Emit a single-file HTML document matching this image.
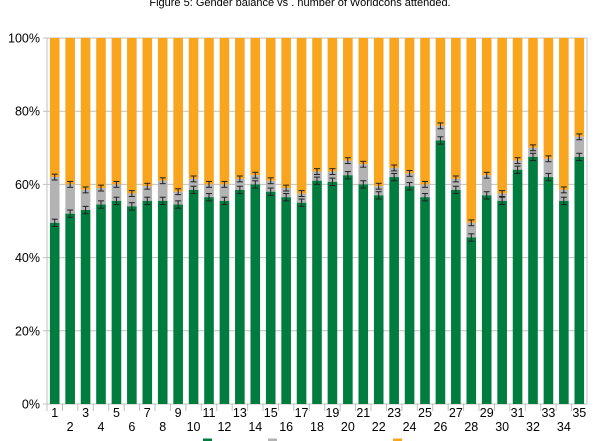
<!DOCTYPE html>
<html><head><meta charset="utf-8"><style>
html,body{margin:0;padding:0;background:#fff;width:600px;height:441px;overflow:hidden}
svg text{font-family:"Liberation Sans",Arial,sans-serif}
</style></head><body>
<svg id="c" width="600" height="441" xmlns="http://www.w3.org/2000/svg">
<text x="300" y="6" font-size="11" text-anchor="middle" fill="#000">Figure 5: Gender balance vs . number of Worldcons attended.</text>
</svg>
<script>
var g=[49.5,52,53,54.5,55.5,54,55.5,55.5,54.5,58.5,56.5,55.5,58.5,60,58,56.5,55,61,60.7,62.5,60,57,62,59.5,56.5,72,58.5,45.5,57,55.5,64,67.5,62,55.5,67.5];
var t=[62,60,58.5,59,60,57.5,59.5,61,58,61.5,60,60,61.5,62.5,61,59,57.5,63.5,63.5,66.5,65.5,59.5,64.5,63,60,76,61.5,49.5,62.5,57.5,66.5,70,67,58.5,73];
var s='',L=47,R=587,T=38,B=404,H=B-T,w=(R-L)/35;
function y(p){return B-p/100*H;}
for(var i=0;i<=5;i++){var yy=y(i*20);s+='<line x1="'+(L-4)+'" x2="'+R+'" y1="'+yy+'" y2="'+yy+'" stroke="#c0c0c0" stroke-width="1"/>';
s+='<text x="40" y="'+(yy+4.5)+'" font-size="12.5" text-anchor="end">'+(i*20)+'%</text>';}
s+='<line x1="'+L+'" x2="'+L+'" y1="'+T+'" y2="'+B+'" stroke="#c0c0c0"/><line x1="'+R+'" x2="'+R+'" y1="'+T+'" y2="'+B+'" stroke="#c0c0c0"/>';
function eb(x,p,e){var a=y(p+e),b=y(p-e);return '<line x1="'+x+'" x2="'+x+'" y1="'+a+'" y2="'+b+'" stroke="#222" stroke-width="1"/><line x1="'+(x-3)+'" x2="'+(x+3)+'" y1="'+a+'" y2="'+a+'" stroke="#222"/><line x1="'+(x-3)+'" x2="'+(x+3)+'" y1="'+b+'" y2="'+b+'" stroke="#222"/>';}
for(var i=0;i<35;i++){var cx=L+w*(i+0.5),x0=cx-4.8,bw=9.6;
s+='<rect x="'+x0+'" y="'+T+'" width="'+bw+'" height="'+(y(t[i])-T)+'" fill="#f9a61e"/>';
s+='<rect x="'+x0+'" y="'+y(t[i])+'" width="'+bw+'" height="'+(y(g[i])-y(t[i]))+'" fill="#b3b3b3"/>';
s+='<rect x="'+x0+'" y="'+y(g[i])+'" width="'+bw+'" height="'+(B-y(g[i]))+'" fill="#007c3e"/>';
s+=eb(cx,g[i],1)+eb(cx,t[i],0.8);
var tx=L+w*i;s+='<line x1="'+tx+'" x2="'+tx+'" y1="'+B+'" y2="'+(B+7)+'" stroke="#c0c0c0"/>';
s+='<text x="'+cx+'" y="'+(i%2==0?417:431)+'" font-size="12.5" text-anchor="middle">'+(i+1)+'</text>';}
s+='<rect x="203" y="438.5" width="9" height="3" fill="#007c3e"/><rect x="268" y="438.5" width="9" height="3" fill="#b3b3b3"/><rect x="393" y="438.5" width="9" height="3" fill="#f9a61e"/>';
document.getElementById('c').insertAdjacentHTML('beforeend',s);
</script>
</body></html>
